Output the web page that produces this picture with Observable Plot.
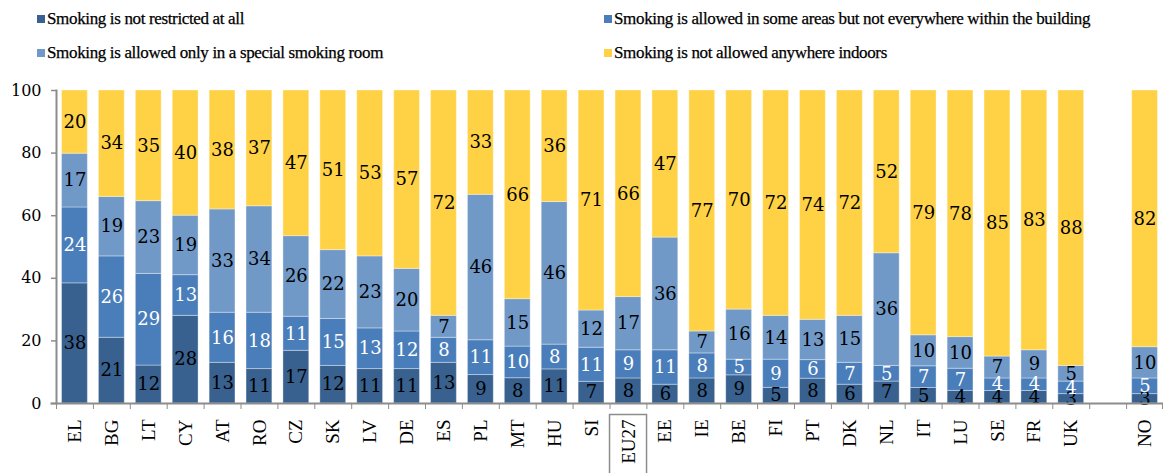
<!DOCTYPE html>
<html><head><meta charset="utf-8">
<script src="https://cdn.jsdelivr.net/npm/d3@7"></script>
<script src="https://cdn.jsdelivr.net/npm/@observablehq/plot@0.6"></script>
<style>
body{margin:0;background:#fff;width:1163px;height:473px;overflow:hidden;}
#legend{position:relative;height:80px;color:#000;}
.item{position:absolute;display:flex;align-items:center;white-space:nowrap;line-height:18px;font-family:'Liberation Serif','Times New Roman',serif;font-size:17px;letter-spacing:-0.35px;-webkit-text-stroke:0.25px #000;}
.sw{width:8px;height:8px;margin-right:2px;-webkit-text-stroke:0;}
#chart{position:relative;}
</style></head><body>
<div id="legend"></div><div id="chart"></div>
<script>
const countries = ["EL","BG","LT","CY","AT","RO","CZ","SK","LV","DE","ES","PL","MT","HU","SI","EU27","EE","IE","BE","FI","PT","DK","NL","IT","LU","SE","FR","UK","NO"];
const seriesNames = [
  "Smoking is not restricted at all",
  "Smoking is allowed in some areas but not everywhere within the building",
  "Smoking is allowed only in a special smoking room",
  "Smoking is not allowed anywhere indoors"
];
const notRestricted = [38,21,12,28,13,11,17,12,11,11,13,9,8,11,7,8,6,8,9,5,8,6,7,5,4,4,4,3,3];
const someAreas     = [24,26,29,13,16,18,11,15,13,12,8,11,10,8,11,9,11,8,5,9,6,7,5,7,7,4,4,4,5];
const specialRoom   = [17,19,23,19,33,34,26,22,23,20,7,46,15,46,12,17,36,7,16,14,13,15,36,10,10,7,9,5,10];
const notAllowed    = [20,34,35,40,38,37,47,51,53,57,72,33,66,36,71,66,47,77,70,72,74,72,52,79,78,85,83,88,82];
const yTicks = [0,20,40,60,80,100];
const seriesColors = ["#38618F","#4A7EBB","#7099C8","#FFD246"];
const spacer = " ";

const values = [notRestricted, someAreas, specialRoom, notAllowed];
const data = [];
countries.forEach((c, i) => {
  values.forEach((arr, s) => data.push({country: c, series: seriesNames[s], value: arr[i]}));
});
const domain = [...countries.slice(0, -1), spacer, countries[countries.length - 1]];

// legend
const legend = document.getElementById("legend");
const pos = [[37,10],[604,10],[37,44],[604,44]];
[0,1,2,3].forEach((s, k) => {
  const it = document.createElement("div");
  it.className = "item";
  it.style.left = pos[k][0] + "px";
  it.style.top = pos[k][1] + "px";
  const sw = document.createElement("span");
  sw.className = "sw"; sw.style.background = seriesColors[s];
  const tx = document.createElement("span");
  tx.textContent = seriesNames[s];
  it.appendChild(sw); it.appendChild(tx);
  legend.appendChild(it);
});

const W = 1163, ML = 56, MR = 0;
const step = (W - ML - MR) / domain.length;
const stackOpts = {x: "country", y: "value", offset: "normalize", order: null};
const labelFont = "DejaVu Serif";

const chart = Plot.plot({
  width: W, height: 393,
  marginLeft: ML, marginRight: MR, marginTop: 10, marginBottom: 70,
  x: {domain, paddingInner: 0.3, paddingOuter: 0.15, round: false, label: null},
  y: {domain: [0, 100], percent: true, label: null},
  color: {domain: seriesNames, range: seriesColors},
  style: {background: "#fff"},
  marks: [
    Plot.barY(data, Plot.stackY({...stackOpts, fill: "series", stroke: "#fff", strokeOpacity: 0.35, strokeWidth: 1})),
    Plot.text(data, Plot.stackY({...stackOpts, text: d => d.series === seriesNames[1] ? "" : String(d.value), fill: "#000", fontSize: 18, fontFamily: labelFont})),
    Plot.text(data, Plot.stackY({...stackOpts, text: d => d.series === seriesNames[1] ? String(d.value) : "", fill: "#fff", fontSize: 18, fontFamily: labelFont})),
    Plot.frame({anchor: "left", stroke: "#8c8c8c", strokeWidth: 2}),
    Plot.frame({anchor: "bottom", stroke: "#8c8c8c", strokeWidth: 2, insetLeft: -5}),
    Plot.ruleX(domain, {x: d => d, dx: -step / 2, y1: () => 0, y2: () => 0, insetBottom: -6, stroke: "#8c8c8c", strokeWidth: 1}),
    Plot.ruleX(domain.slice(-1), {x: d => d, dx: step / 2 - 1, y1: () => 0, y2: () => 0, insetBottom: -6, stroke: "#8c8c8c", strokeWidth: 1}),
    Plot.axisY({ticks: yTicks, tickSize: 5, tickPadding: 10, fontSize: 16, fontFamily: labelFont, stroke: "#8c8c8c", strokeWidth: 1.5, color: "#000", tickFormat: d => String(d)}),
    Plot.axisX({tickSize: 0, tickRotate: -90, tickPadding: 16, fontSize: 19, fontFamily: "Liberation Serif", color: "#000", tickFormat: d => d})
  ]
});
document.getElementById("chart").appendChild(chart);

// box around the EU27 label
const svgRect = chart.getBoundingClientRect();
chart.querySelectorAll("text").forEach(t => {
  if (t.textContent === "EU27") {
    const r = t.getBoundingClientRect();
    const cx = (r.left + r.right) / 2 - svgRect.left;
    const rect = document.createElementNS("http://www.w3.org/2000/svg", "rect");
    rect.setAttribute("x", cx - 18.5);
    rect.setAttribute("y", r.top - svgRect.top - 5);
    rect.setAttribute("width", 37);
    rect.setAttribute("height", 100);
    rect.setAttribute("fill", "none");
    rect.setAttribute("stroke", "#8c8c8c");
    rect.setAttribute("stroke-width", 1.5);
    chart.appendChild(rect);
  }
});
</script>
</body></html>
